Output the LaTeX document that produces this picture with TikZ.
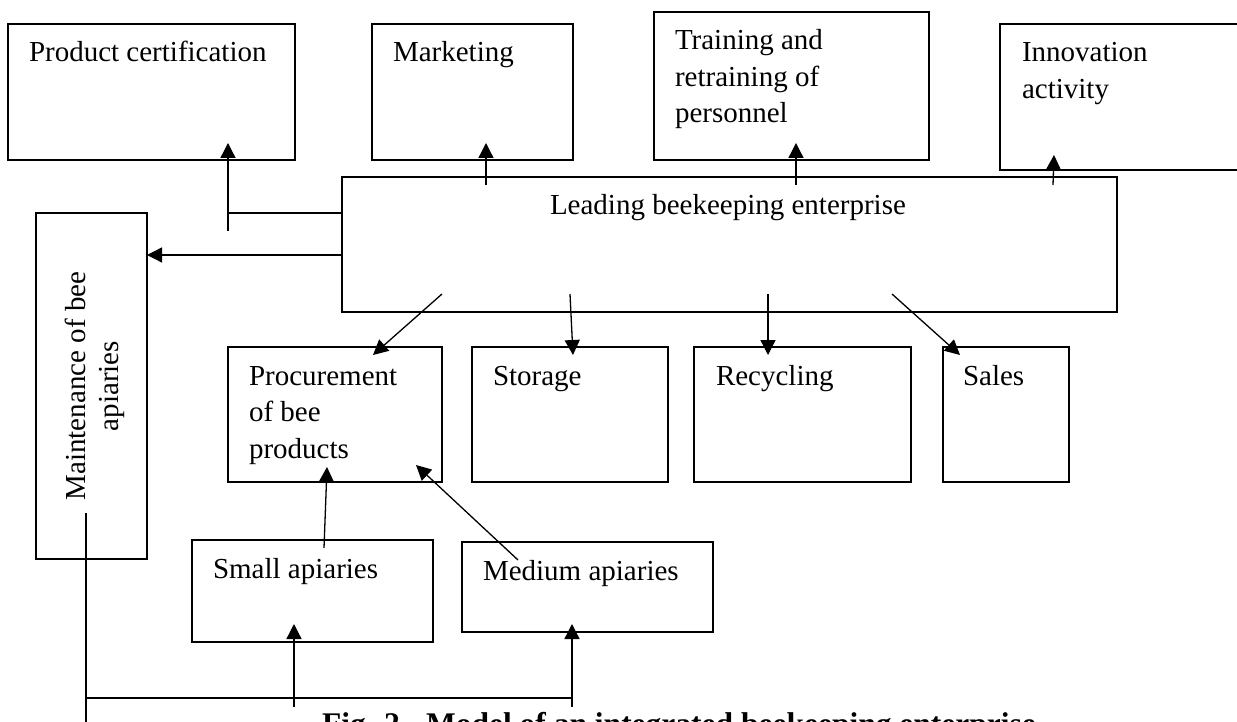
\documentclass[tikz,border=0pt]{standalone}
\usepackage{fontspec}
\setmainfont{Liberation Serif}
\usetikzlibrary{arrows.meta,calc}
\tikzset{
  box/.style={draw, line width=1.2pt, rectangle, inner sep=0pt, outer sep=0pt, anchor=north west},
  lbl/.style={inner sep=0pt, outer sep=0pt, anchor=base west, font=\fontsize{29}{36.5}\selectfont},
  conn/.style={line width=1.3pt},
  arr/.style={line width=1.3pt, -{Triangle[length=15pt,width=15pt]}},
}
\begin{document}
\begin{tikzpicture}[x=1pt,y=-1pt]
\useasboundingbox (0,0) rectangle (1237,722);
% boxes
\node[box, minimum width=287pt, minimum height=136pt] (pc) at (8,24) {};
\node[box, minimum width=201pt, minimum height=136pt] (mkt) at (372,24) {};
\node[box, minimum width=275pt, minimum height=148pt] (trn) at (654,12) {};
\node[box, minimum width=250pt, minimum height=146pt] (inn) at (1000,24) {};
\node[box, minimum width=775pt, minimum height=135pt] (lead) at (342,177) {};
\node[box, minimum width=111pt, minimum height=346pt] (mnt) at (36,213) {};
\node[box, minimum width=214pt, minimum height=135pt] (proc) at (228,347) {};
\node[box, minimum width=196pt, minimum height=135pt] (stor) at (472,347) {};
\node[box, minimum width=217pt, minimum height=135pt] (recy) at (694,347) {};
\node[box, minimum width=126pt, minimum height=135pt] (sales) at (943,347) {};
\node[box, minimum width=241pt, minimum height=102pt] (small) at (192,540) {};
\node[box, minimum width=251pt, minimum height=90pt] (med) at (462,542) {};
% texts
\node[lbl] (pct) at (29,62) {Product certification};
\node[lbl] (mktt) at (393,62) {Marketing};
\node[lbl] (trnt) at (675,50) {\begin{tabular}[t]{@{}l@{}}Training and\\retraining of\\personnel\end{tabular}};
\node[lbl] (innt) at (1022,62) {\begin{tabular}[t]{@{}l@{}}Innovation\\activity\end{tabular}};
\node[lbl] (leadt) at (550,215) {Leading beekeeping enterprise};
\node[inner sep=0pt, outer sep=0pt, anchor=base, rotate=90, font=\fontsize{29}{33}\selectfont] (mntt) at (85,386) {\begin{tabular}[t]{@{}c@{}}Maintenance of bee\\apiaries\end{tabular}};
\node[lbl] (proct) at (249,385) {\begin{tabular}[t]{@{}l@{}}Procurement\\of bee\\products\end{tabular}};
\node[lbl] (stort) at (493,385) {Storage};
\node[lbl] (recyt) at (716,385) {Recycling};
\node[lbl] (salest) at (963,385) {Sales};
\node[lbl] (smallt) at (213,578) {Small apiaries};
\node[lbl] (medt) at (483,580) {Medium apiaries};
\node[lbl, font=\fontsize{31.5}{38}\selectfont\bfseries] (cap) at (322,734) {Fig. 2 - Model of an integrated beekeeping enterprise};
% connectors from leading enterprise
\draw[conn] ($(lead.north west)+(0,36)$) -- ($(pc.south west)+(220,53)$);
\draw[arr] ($(pc.south west)+(220,71)$) -- ($(pc.south west)+(220,-17)$);
\draw[arr] ($(lead.north west)+(0,78)$) -- ($(mnt.north east)+(0,42)$);
\draw[arr] ($(lead.north west)+(144,8)$) -- ($(mkt.south west)+(114,-17)$);
\draw[arr] ($(lead.north west)+(454,8)$) -- ($(trn.south west)+(142,-17)$);
\draw[arr] ($(lead.north west)+(711,8)$) -- ($(inn.south west)+(54,-15)$);
\draw[arr] ($(lead.south west)+(100,-18)$) -- ($(proc.north west)+(145,8)$);
\draw[arr] ($(lead.south west)+(228,-18)$) -- ($(stor.north west)+(101,8)$);
\draw[arr] ($(lead.south west)+(426,-18)$) -- ($(recy.north west)+(74,8)$);
\draw[arr] ($(lead.south west)+(550,-18)$) -- ($(sales.north west)+(17,8)$);
% apiaries to procurement
\draw[arr] ($(small.north west)+(132,8)$) -- ($(proc.south west)+(99,-15)$);
\draw[arr] ($(med.north west)+(56,18)$) -- ($(proc.south west)+(188,-17)$);
% maintenance bus
\coordinate (mbot) at (86,740);
\coordinate (busl) at (87,698);
\coordinate (busr) at (572,698);
\coordinate (sfoot) at (294,707);
\coordinate (mfoot) at (572,707);
\draw[conn] ($(mnt.south west)+(50,-46)$) -- (mbot);
\draw[conn] (busl) -- (busr);
\draw[arr] (sfoot) -- ($(small.south west)+(102,-18)$);
\draw[arr] (mfoot) -- ($(med.south west)+(110,-8)$);
\end{tikzpicture}
\end{document}
